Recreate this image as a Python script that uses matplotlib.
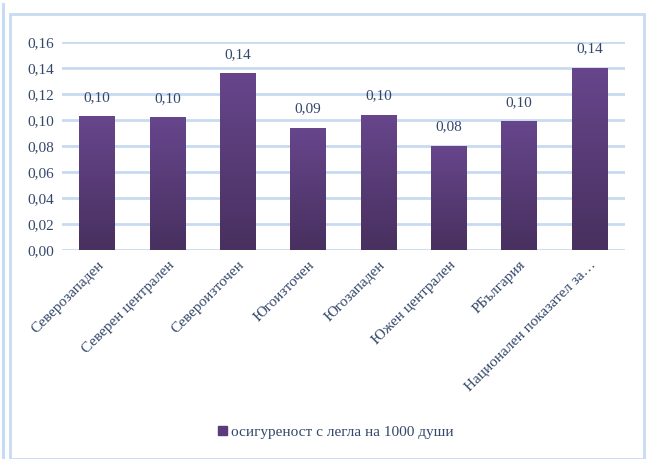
import matplotlib
matplotlib.use("Agg")
import matplotlib.pyplot as plt
import numpy as np
from matplotlib.patches import Rectangle
from matplotlib.colors import LinearSegmentedColormap

categories = ["Северозападен", "Северен централен", "Североизточен", "Югоизточен",
              "Югозападен", "Южен централен", "РБългария", "Национален показател за…"]
values = [0.103, 0.102, 0.136, 0.094, 0.104, 0.080, 0.099, 0.140]
series_name = "осигуреност с легла на 1000 души"
yticks = [0.00, 0.02, 0.04, 0.06, 0.08, 0.10, 0.12, 0.14, 0.16]

plt.rcParams['font.family'] = ['Liberation Serif', 'DejaVu Serif']
text_color = "#33476A"
grid_color = "#C9DBF1"

fig = plt.figure(figsize=(6.46, 4.59), dpi=100)
fig.patch.set_facecolor("white")
# chart border
fig.add_artist(Rectangle((10/646, 0.0), (646-12)/646, 1 - 14/459, transform=fig.transFigure,
                         fill=False, edgecolor=grid_color, linewidth=2))
fig.add_artist(Rectangle((3/646, 0.0), 0.001, 1 - 4/459, transform=fig.transFigure,
                         fill=False, edgecolor=grid_color, linewidth=1.5))

ax = fig.add_axes([0.096, 0.4553, 0.871, 0.4532])
x = np.arange(len(categories))
bars = ax.bar(x, values, width=0.51, color="#5A3B7C", zorder=3)

# vertical gradient on bars
grad = np.linspace(0, 1, 256).reshape(-1, 1)
cmap = LinearSegmentedColormap.from_list("pg", ["#48305F", "#67468C"])
for b in bars:
    x0, y0 = b.get_x(), b.get_y()
    w, h = b.get_width(), b.get_height()
    im = ax.imshow(grad, extent=[x0, x0 + w, y0, y0 + h], origin="lower",
                   cmap=cmap, aspect="auto", zorder=4)
    im.set_clip_path(b)

for xi, v in zip(x, values):
    ax.text(xi, v + 0.0095, f"{v:.2f}".replace(".", ","), ha="center", va="bottom",
            fontsize=11, color=text_color, zorder=5)

ax.set_xlim(-0.5, len(categories) - 0.5)
ax.set_ylim(0, 0.16)
ax.set_yticks(yticks)
ax.set_yticklabels([f"{t:.2f}".replace(".", ",") for t in yticks], fontsize=11, color=text_color)
ax.set_xticks(x)
ax.set_xticklabels(categories, rotation=45, ha="right", rotation_mode="anchor",
                   fontsize=11, color=text_color)
ax.tick_params(axis="both", length=0, pad=6)
ax.grid(axis="y", color=grid_color, linewidth=2, zorder=0)
for s in ax.spines.values():
    s.set_visible(False)

handle = Rectangle((0, 0), 1, 1, color="#5A3B7C")
fig.legend([handle], [series_name], loc="center", bbox_to_anchor=(0.52, 0.058),
           frameon=False, fontsize=11, handlelength=0.6, handleheight=0.6,
           handletextpad=0.3, labelcolor=text_color)

fig.savefig("out.png", dpi=100)
